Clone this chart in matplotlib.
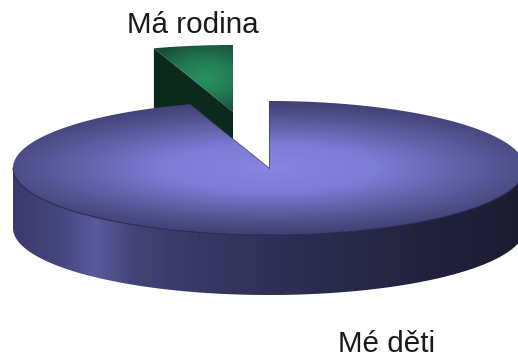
import numpy as np
import matplotlib
matplotlib.use("Agg")
import matplotlib.pyplot as plt
from matplotlib.patches import Polygon
from matplotlib.colors import LinearSegmentedColormap

categories = ["Mé děti", "Má rodina"]
shares = [95, 5]

plt.rcParams["font.family"] = ["Liberation Sans", "DejaVu Sans"]

W, H = 518, 358
CX, CY, RX, RY, DEPTH = 269, 168, 256, 67, 60
EXPLODE = (-36, -56)

fig = plt.figure(figsize=(W / 100, H / 100), dpi=100)
ax = fig.add_axes([0, 0, 1, 1])
ax.set_xlim(0, W)
ax.set_ylim(H, 0)
ax.axis("off")


def rim(a0, a1, cx=CX, cy=CY, n=240):
    """Points on the ellipse, angle in degrees clockwise from straight up."""
    t = np.radians(np.linspace(a0, a1, n))
    return np.column_stack([cx + RX * np.sin(t), cy - RY * np.cos(t)])


def fill(poly, rgb, z):
    """Paint an RGB field over the whole canvas, clipped to a polygon."""
    im = ax.imshow(rgb, extent=(0, W, H, 0), aspect="auto",
                   interpolation="bilinear", zorder=z)
    im.set_clip_path(Polygon(poly, closed=True, transform=ax.transData))


def ramp(stops):
    return LinearSegmentedColormap.from_list(
        "ramp", [(p, np.array(c) / 255) for p, c in stops])


xx, yy = np.meshgrid(np.arange(W) + 0.5, np.arange(H) + 0.5)

sweep = 360 * np.array(shares, dtype=float) / sum(shares)
blue_end = sweep[0]
green_start, green_end = sweep[0], sweep[0] + sweep[1]

# Detached slice: dark cut face, then the lit top
gx, gy = CX + EXPLODE[0], CY + EXPLODE[1]
green_rim = rim(green_start, green_end, gx, gy, 40)
outer = green_rim[0]
cut_face = [(gx, gy), tuple(outer), (outer[0], outer[1] + DEPTH), (gx, gy + DEPTH)]
ax.add_patch(Polygon(cut_face, closed=True, fc="#0b291c", ec="none", zorder=2))
green_r = np.hypot((xx - 206) / 66, (yy - 78) / 40)
green_cmap = ramp([(0, (40, 146, 98)), (0.45, (34, 122, 84)),
                   (0.8, (26, 92, 68)), (1, (22, 72, 54))])
fill(np.vstack([[gx, gy], green_rim]), green_cmap(np.clip(green_r, 0, 1))[..., :3], 3)

# Side wall of the large slice, lit from the left
wall = np.vstack([rim(270, 90, CX, CY), rim(90, 270, CX, CY + DEPTH)])
wall_cmap = ramp([(0, (58, 58, 108)), (0.10, (72, 72, 130)), (0.16, (90, 90, 156)),
                  (0.24, (66, 66, 118)), (0.36, (56, 56, 100)), (0.56, (45, 45, 82)),
                  (0.78, (35, 35, 62)), (1, (27, 27, 48))])
fill(wall, wall_cmap(np.clip((xx - 13) / 512, 0, 1))[..., :3], 4)

# Top face of the large slice, brightest at the centre
top = np.vstack([[CX, CY], rim(0, blue_end)])
top_r = np.hypot((xx - CX) / (RX * 1.2), (yy - CY) / RY)
top_cmap = ramp([(0, (135, 132, 228)), (0.35, (125, 124, 214)), (0.55, (104, 104, 180)),
                 (0.82, (78, 78, 136)), (1, (64, 64, 114))])
fill(top, top_cmap(np.clip(top_r, 0, 1))[..., :3], 5)

# Thin dark line along the front rim and the cut edges
front = rim(90, 270)
ax.plot(front[:, 0], front[:, 1], color="#23234f", lw=0.7, zorder=6)
ax.plot([CX, CX], [CY - RY, CY], color="#3c3c70", lw=0.5, zorder=6)
edge = rim(blue_end, blue_end, n=2)[0]
ax.plot([CX, edge[0]], [CY, edge[1]], color="#3c3c70", lw=0.5, zorder=6)

ax.text(193, 33, categories[1], fontsize=21.3, color="#1a1a1a", ha="center", va="baseline", zorder=7)
ax.text(386.5, 352, categories[0], fontsize=21.3, color="#1a1a1a", ha="center", va="baseline", zorder=7)

fig.savefig("out.png", dpi=100, facecolor="white")
